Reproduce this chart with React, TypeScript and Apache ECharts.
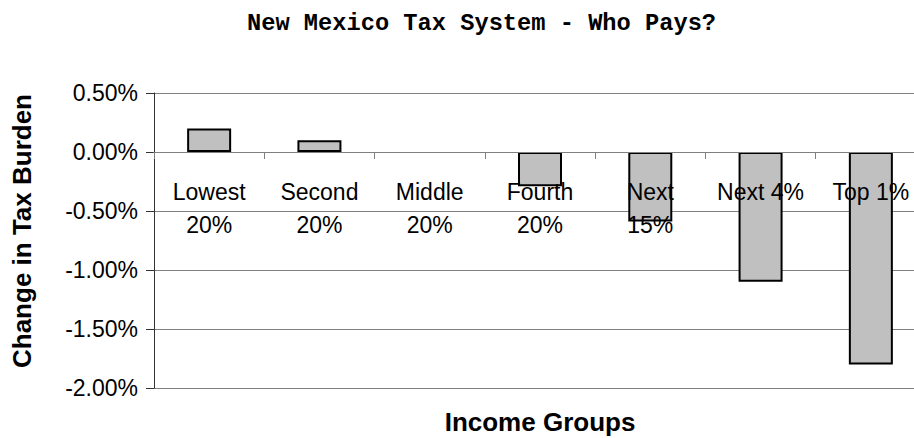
import React, { useEffect, useRef } from "react";
import * as echarts from "echarts";

const categories = ["Lowest\n20%", "Second\n20%", "Middle\n20%", "Fourth\n20%", "Next\n15%", "Next 4%", "Top 1%"];
const changeInTaxBurden = [0.2, 0.1, 0, -0.29, -0.59, -1.1, -1.8];
const yMin = -2;
const yMax = 0.5;
const yStep = 0.5;
const titleText = "New Mexico Tax System - Who Pays?";
const xTitle = "Income Groups";
const yTitle = "Change in Tax Burden";

const SANS = "'Liberation Sans', Arial, sans-serif";

export default function App() {
  const ref = useRef<HTMLDivElement>(null);
  useEffect(() => {
    if (!ref.current) return;
    const chart = echarts.init(ref.current, null, { renderer: "svg" });
    chart.setOption({
      animation: false,
      backgroundColor: "#ffffff",
      title: {
        text: titleText,
        left: 247,
        top: 11,
        padding: 0,
        textStyle: {
          fontFamily: "'Liberation Mono', 'Courier New', monospace",
          fontWeight: "bold",
          fontSize: 23.7,
          color: "#000",
        },
      },
      grid: {
        left: 154,
        top: 93,
        width: 772,
        height: 295,
        containLabel: false,
        outerBoundsMode: "none",
      },
      xAxis: {
        type: "category",
        data: categories,
        z: 5,
        name: xTitle,
        nameLocation: "middle",
        nameGap: 21,
        nameMoveOverlap: false,
        nameTextStyle: { fontFamily: SANS, fontWeight: "bold", fontSize: 26, color: "#000" },
        axisLine: { onZero: true, lineStyle: { color: "#808080", width: 1 } },
        axisTick: { show: true, alignWithLabel: false, length: 7, lineStyle: { color: "#808080" } },
        axisLabel: {
          interval: 0,
          margin: -213,
          fontFamily: SANS,
          fontSize: 23,
          lineHeight: 33,
          color: "#000",
        },
        splitLine: { show: false },
      },
      yAxis: {
        type: "value",
        min: yMin,
        max: yMax,
        interval: yStep,
        name: yTitle,
        nameLocation: "middle",
        nameGap: 119,
        nameMoveOverlap: false,
        nameTextStyle: {
          fontFamily: SANS,
          fontWeight: "bold",
          fontSize: 26,
          color: "#000",
          padding: [0, 0, 0, 19],
        },
        axisLine: { show: true, lineStyle: { color: "#333", width: 1 } },
        axisTick: { show: true, length: 8, lineStyle: { color: "#333" } },
        axisLabel: {
          margin: 16,
          fontFamily: SANS,
          fontSize: 23,
          color: "#000",
          formatter: (v: number) => v.toFixed(2) + "%",
        },
        splitLine: { show: true, lineStyle: { color: "#808080", width: 1 } },
      },
      series: [
        {
          type: "bar",
          barWidth: 44,
          z: 2,
          data: changeInTaxBurden.map((v) =>
            v === 0 ? { value: v, itemStyle: { borderWidth: 0 } } : v
          ),
          itemStyle: { color: "#c0c0c0", borderColor: "#000", borderWidth: 2 },
        },
      ],
    });
    return () => chart.dispose();
  }, []);
  return (
    <div
      ref={ref}
      style={{ position: "absolute", left: 0, top: 0, width: 914, height: 438, overflow: "hidden" }}
    />
  );
}
